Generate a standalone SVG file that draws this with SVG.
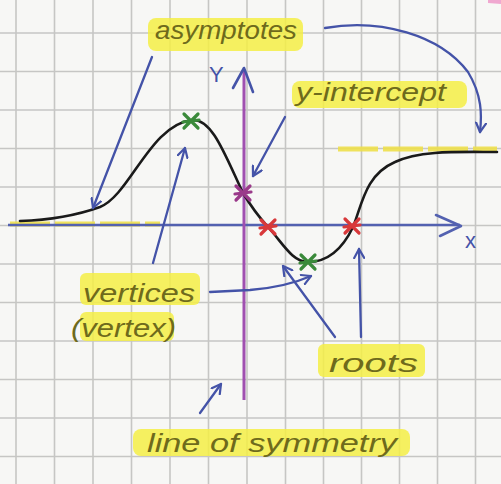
<svg xmlns="http://www.w3.org/2000/svg" width="501" height="484" viewBox="0 0 501 484">
<defs>
<style>
.grid line{stroke:#c6c6c4;stroke-width:1.6}
.hl{fill:#f4ee45;opacity:0.85}
.lbl{font-family:"Liberation Sans",Arial,sans-serif;font-style:italic;fill:#6e6a1c;font-size:25px}
.conn{fill:none;stroke:#4453a8;stroke-width:2.3;stroke-linecap:round;marker-end:url(#ah)}
.asym{stroke:#efe04c;stroke-width:5;stroke-dasharray:40 5;opacity:0.9}
.mk{fill:none;stroke-width:3.2;stroke-linecap:round}
.axlbl{font-family:"Liberation Sans",Arial,sans-serif;fill:#4453a8;font-size:22px}
</style>
<marker id="ah" viewBox="0 0 12 12" refX="10" refY="6" markerWidth="12" markerHeight="12" markerUnits="userSpaceOnUse" orient="auto">
<path d="M1,1 L10,6 L1,11" fill="none" stroke="#4453a8" stroke-width="2.2" stroke-linecap="round" stroke-linejoin="round"/>
</marker>
<path id="star" d="M-7,-7 L7,7 M-7,7 L7,-7 M-8,1 L8,-1"/>
</defs>
<rect width="501" height="484" fill="#f7f7f5"/>
<path d="M488,0 L501,0 L501,4 L488,3 Z" fill="#f0a8d0"/>
<g class="grid">
<line x1="16" y1="0" x2="16" y2="484"/><line x1="54.5" y1="0" x2="54.5" y2="484"/><line x1="93" y1="0" x2="93" y2="484"/><line x1="131.5" y1="0" x2="131.5" y2="484"/><line x1="170" y1="0" x2="170" y2="484"/><line x1="208.5" y1="0" x2="208.5" y2="484"/><line x1="247" y1="0" x2="247" y2="484"/><line x1="285.5" y1="0" x2="285.5" y2="484"/><line x1="323.5" y1="0" x2="323.5" y2="484"/><line x1="361.5" y1="0" x2="361.5" y2="484"/><line x1="399.5" y1="0" x2="399.5" y2="484"/><line x1="437.5" y1="0" x2="437.5" y2="484"/><line x1="475.5" y1="0" x2="475.5" y2="484"/>
<line x1="0" y1="33" x2="501" y2="33"/><line x1="0" y1="71.5" x2="501" y2="71.5"/><line x1="0" y1="110" x2="501" y2="110"/><line x1="0" y1="148.5" x2="501" y2="148.5"/><line x1="0" y1="187" x2="501" y2="187"/><line x1="0" y1="225.5" x2="501" y2="225.5"/><line x1="0" y1="264" x2="501" y2="264"/><line x1="0" y1="302.5" x2="501" y2="302.5"/><line x1="0" y1="341" x2="501" y2="341"/><line x1="0" y1="379.5" x2="501" y2="379.5"/><line x1="0" y1="418" x2="501" y2="418"/><line x1="0" y1="456.5" x2="501" y2="456.5"/>
</g>
<g id="asymptote-lines">
<line class="asym" x1="10" y1="224" x2="160" y2="224"/>
<line class="asym" x1="338" y1="149" x2="497" y2="149"/>
</g>
<g id="axes">
<line x1="8" y1="225" x2="460" y2="225" stroke="#5361b0" stroke-width="2.6"/>
<polyline points="436,215 461,226 440,236" fill="none" stroke="#5361b0" stroke-width="2.6" stroke-linecap="round" stroke-linejoin="round"/>
<text class="axlbl" x="465" y="248">x</text>
<line x1="244" y1="70" x2="244" y2="400" stroke="#a050b0" stroke-width="3"/>
<polyline points="233,88 244,68 253,92" fill="none" stroke="#4453a8" stroke-width="2.6" stroke-linecap="round" stroke-linejoin="round"/>
<text class="axlbl" x="209" y="82">Y</text>
</g>
<g id="curve">
<path d="M20,221 C50,220 75,216 100,207 C130,195 150,125 192,120 C212,118 225,155 243,193 C252,208 258,216 268,227 C282,242 292,262 308,262 C328,262 342,250 353,227 C362,205 365,175 395,162 C420,150 460,152 497,152" fill="none" stroke="#1a1a1a" stroke-width="2.6" stroke-linecap="round"/>
</g>
<g id="points">
<use href="#star" class="mk" stroke="#3a8a3a" x="191" y="121"/>
<use href="#star" class="mk" stroke="#3a8a3a" x="308" y="262"/>
<use href="#star" class="mk" stroke="#9a3a8a" x="243" y="193"/>
<use href="#star" class="mk" stroke="#d8383a" x="268" y="227"/>
<use href="#star" class="mk" stroke="#d8383a" x="352" y="226"/>
</g>
<g id="connectors">
<path class="conn" d="M152,57 L93,208"/>
<path class="conn" d="M325,28 C380,18 440,35 468,72 C482,95 482,115 480,132"/>
<path class="conn" d="M285,117 L253,176"/>
<path class="conn" d="M153,263 L185,148"/>
<path class="conn" d="M210,292 L250,290 C275,288 295,283 311,276"/>
<path class="conn" d="M335,337 L283,266"/>
<path class="conn" d="M361,337 L359,249"/>
<path class="conn" d="M200,413 L221,384"/>
</g>
<g id="label-asymptotes">
<rect class="hl" x="148" y="18" width="155" height="33" rx="8"/>
<text class="lbl" x="155" y="39" textLength="142" lengthAdjust="spacingAndGlyphs">asymptotes</text>
</g>
<g id="label-y-intercept">
<rect class="hl" x="292" y="81" width="175" height="27" rx="8"/>
<text class="lbl" x="296" y="101" textLength="150" lengthAdjust="spacingAndGlyphs">y-intercept</text>
</g>
<g id="label-vertices">
<rect class="hl" x="80" y="273" width="120" height="32" rx="6"/>
<rect class="hl" x="80" y="312" width="94" height="29" rx="6"/>
<text class="lbl" x="83" y="302" textLength="112" lengthAdjust="spacingAndGlyphs">vertices</text>
<text class="lbl" x="71" y="337" textLength="105" lengthAdjust="spacingAndGlyphs">(vertex)</text>
</g>
<g id="label-roots">
<rect class="hl" x="318" y="344" width="107" height="33" rx="6"/>
<text class="lbl" x="329" y="372" textLength="89" lengthAdjust="spacingAndGlyphs">roots</text>
</g>
<g id="label-line-of-symmetry">
<rect class="hl" x="133" y="429" width="277" height="27" rx="8"/>
<text class="lbl" x="147" y="452" textLength="250" lengthAdjust="spacingAndGlyphs">line of symmetry</text>
</g>
</svg>
